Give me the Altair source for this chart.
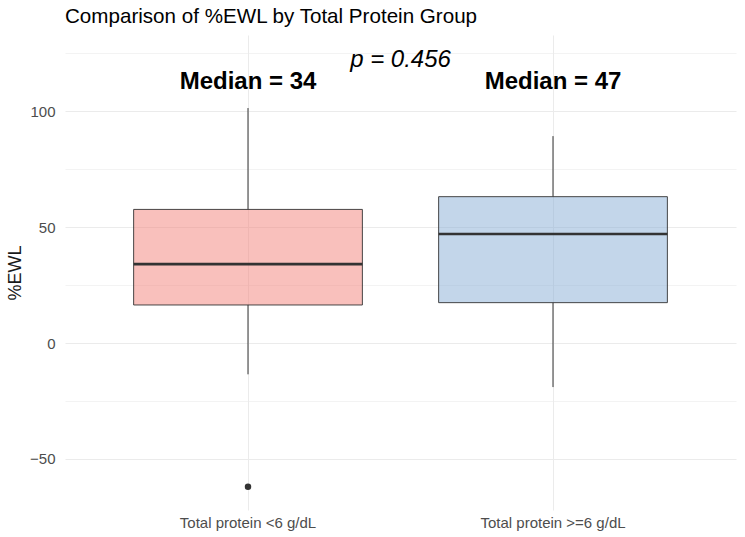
import altair as alt
import pandas as pd

# ---- data ----
groups = ["Total protein <6 g/dL", "Total protein >=6 g/dL"]
whisker_low = [-13.5, -19.0]
q1 = [16.4, 17.4]
median = [34.0, 47.0]
q3 = [57.6, 63.1]
whisker_high = [101.3, 89.2]
outlier_group = ["Total protein <6 g/dL"]
outlier_value = [-62.0]
median_labels = ["Median = 34", "Median = 47"]
median_label_y = [112.5, 112.5]
p_text = ["p = 0.456"]
p_text_y = [122.0]
fill_colors = ["#F4827A", "#87AED5"]
y_ticks = [-50, -25, 0, 25, 50, 75, 100, 125]

W, H = 671, 475
FONT = "Liberation Sans"

box_df = pd.DataFrame(dict(group=groups, lo=whisker_low, q1=q1, med=median,
                           q3=q3, hi=whisker_high, label=median_labels,
                           ly=median_label_y))
out_df = pd.DataFrame(dict(group=outlier_group, value=outlier_value))
p_df = pd.DataFrame(dict(text=p_text, y=p_text_y))

xscale = alt.Scale(domain=groups, paddingInner=0.25, paddingOuter=0.225)
yscale = alt.Scale(domain=[-72, 132.8], nice=False, zero=False)

x_enc = alt.X("group:N", scale=xscale, sort=groups,
              axis=alt.Axis(title=None, labelAngle=0, labelFontSize=15,
                            labelColor="#4D4D4D", labelPadding=5, ticks=False,
                            domain=False, grid=True, gridColor="#EBEBEB",
                            gridWidth=1, labelFont=FONT))

y_axis = alt.Axis(title="%EWL", values=y_ticks,
                  labelExpr="datum.value % 50 == 0 ? datum.label : ''",
                  labelFontSize=15, labelColor="#4D4D4D", labelPadding=10,
                  ticks=False, domain=False, grid=True, gridColor="#EBEBEB",
                  gridWidth={"condition": {"test": "datum.value % 50 == 0", "value": 1.1},
                             "value": 0.6},
                  titleFontSize=18, titleColor="#1a1a1a", titleFontWeight="normal",
                  titlePadding=5, labelFont=FONT, titleFont=FONT)

base = alt.Chart(box_df)

lower = base.mark_rule(color="#333333", strokeWidth=1).encode(
    x=x_enc, y=alt.Y("lo:Q", scale=yscale, axis=y_axis), y2="q1:Q")
upper = base.mark_rule(color="#333333", strokeWidth=1).encode(
    x=x_enc, y=alt.Y("q3:Q", scale=yscale), y2="hi:Q")
box = base.mark_bar(fillOpacity=0.5, stroke="#333333", strokeWidth=0.9).encode(
    x=x_enc, y=alt.Y("q1:Q", scale=yscale), y2="q3:Q",
    fill=alt.Fill("group:N", scale=alt.Scale(domain=groups, range=fill_colors),
                  legend=None))
med = base.mark_tick(orient="horizontal", thickness=2.6, color="#333333",
                     opacity=1).encode(
    x=x_enc, y=alt.Y("med:Q", scale=yscale))
outl = alt.Chart(out_df).mark_circle(size=42, color="#333333", opacity=1).encode(
    x=x_enc, y=alt.Y("value:Q", scale=yscale))
labels = base.mark_text(fontSize=24, fontWeight="bold", color="black",
                        baseline="middle", font=FONT).encode(
    x=x_enc, y=alt.Y("ly:Q", scale=yscale), text="label:N")
ptxt = alt.Chart(p_df).mark_text(fontSize=24, fontStyle="italic", color="black",
                                 baseline="middle", font=FONT).encode(
    x=alt.value(W / 2), y=alt.Y("y:Q", scale=yscale), text="text:N")

chart = alt.layer(lower, upper, box, med, outl, labels, ptxt).properties(
    width=W, height=H,
    background="white",
    autosize=alt.AutoSizeParams(type="none"),
    padding={"left": 65, "top": 35, "right": 9, "bottom": 27},
    title=alt.TitleParams("Comparison of %EWL by Total Protein Group",
                          anchor="start", frame="group", fontSize=20.6,
                          fontWeight="normal", color="black", font=FONT,
                          offset=7),
).configure_view(strokeWidth=0, stroke="transparent")

chart.save("out.html", embed_options={"renderer": "svg", "actions": False})
